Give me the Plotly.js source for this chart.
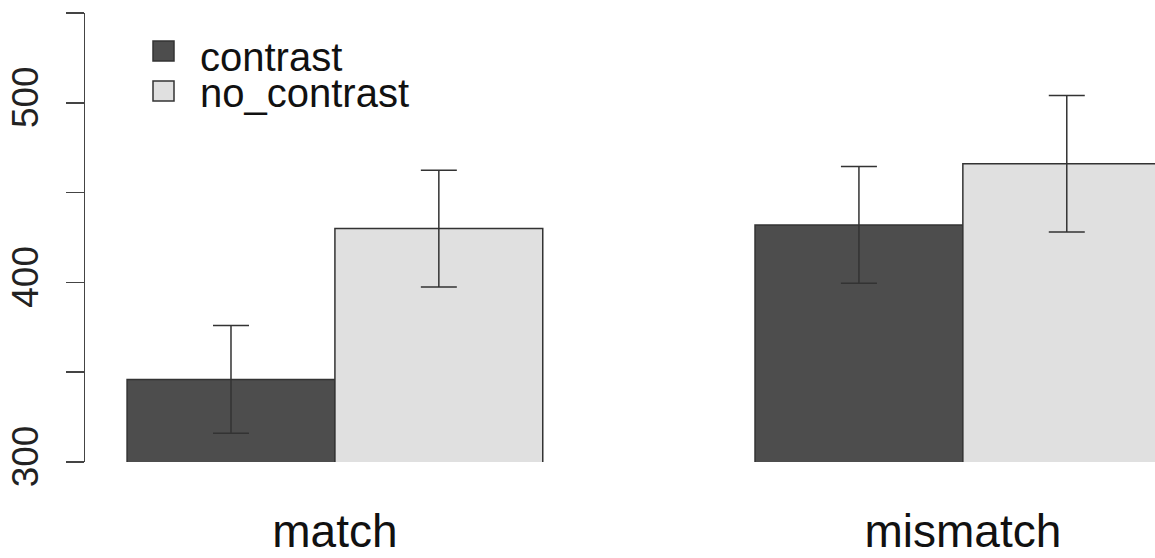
<!DOCTYPE html>
<html>
<head>
<meta charset="utf-8">
<script src="https://cdn.plot.ly/plotly-3.0.1.min.js"></script>
<style>html,body{margin:0;padding:0;background:#fff;}#chart{width:1155px;height:558px;}</style>
</head>
<body>
<div id="chart"></div>
<script>
// ---- data ----
const categories = ["match", "mismatch"];
const seriesNames = ["contrast", "no_contrast"];
const contrastMeans = [346, 432];
const contrastErr = [30, 32.5];
const noContrastMeans = [430, 466];
const noContrastErr = [32.5, 38];
const yTickVals = [300, 350, 400, 450, 500, 550];
const yTickText = ["300", "", "400", "", "500", ""];

const FONT = "Liberation Sans, Arial, Helvetica, sans-serif";
const colors = ["#4d4d4d", "#e0e0e0"];
const edge = "#333333";

const traces = [
  {type: "bar", name: seriesNames[0], x: categories, y: contrastMeans,
   marker: {color: colors[0], line: {color: edge, width: 1.5}},
   error_y: {type: "data", array: contrastErr, visible: true, color: "#333", thickness: 1.5, width: 18},
   showlegend: false},
  {type: "bar", name: seriesNames[1], x: categories, y: noContrastMeans,
   marker: {color: colors[1], line: {color: edge, width: 1.5}},
   error_y: {type: "data", array: noContrastErr, visible: true, color: "#333", thickness: 1.5, width: 18},
   showlegend: false}
];

// plot area in pixels: top 13, bottom 462
const plotTop = 13, plotBottom = 462, plotH = plotBottom - plotTop;
const py = p => (plotBottom - p) / plotH;

const shapes = [], annotations = [];
const legendRows = [51, 91];
const legendText = [57, 93];
seriesNames.forEach((nm, i) => {
  shapes.push({type: "rect", xref: "paper", yref: "paper",
    x0: (153 - 85) / 1070, x1: (174 - 85) / 1070,
    y0: py(legendRows[i] + 10), y1: py(legendRows[i] - 10),
    fillcolor: colors[i], line: {color: edge, width: 1.5}});
  annotations.push({xref: "paper", yref: "paper", x: (198 - 85) / 1070, y: py(legendText[i]),
    xanchor: "left", yanchor: "middle", showarrow: false, text: nm,
    font: {family: FONT, size: 40, color: "#111"}});
});

const layout = {
  width: 1155, height: 558,
  margin: {l: 85, r: 0, t: plotTop, b: 558 - plotBottom},
  paper_bgcolor: "#fff", plot_bgcolor: "#fff",
  barmode: "group", bargap: 0.338, bargroupgap: 0,
  showlegend: false,
  xaxis: {type: "category", range: [-0.398, 1.306], showline: false, showgrid: false,
    zeroline: false, ticks: "", ticklabelstandoff: 38,
    tickfont: {family: FONT, size: 46, color: "#111"}},
  yaxis: {range: [300, 550], showline: true, linecolor: "#444", linewidth: 1.5,
    showgrid: false, zeroline: false, ticks: "outside", ticklen: 18, tickwidth: 1.5,
    tickcolor: "#444", tickvals: yTickVals, ticktext: yTickText, tickangle: -90,
    ticklabelstandoff: 13,
    tickfont: {family: FONT, size: 37, color: "#222"}},
  shapes: shapes,
  annotations: annotations,
  font: {family: FONT}
};

Plotly.newPlot("chart", traces, layout, {staticPlot: true, displayModeBar: false});
</script>
</body>
</html>
